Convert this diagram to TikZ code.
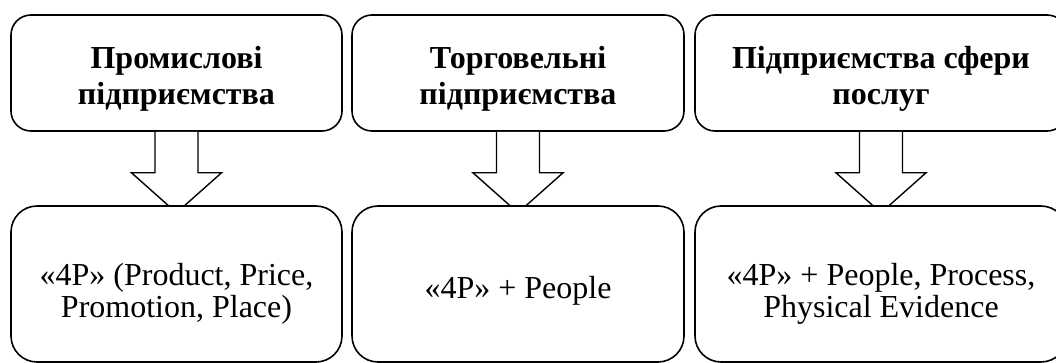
\documentclass[tikz,border=0pt]{standalone}
\usepackage{fontspec}
\setmainfont{Liberation Serif}
\usetikzlibrary{calc}
\newcommand\boxtext[2]{\raisebox{-#1}[0pt][0pt]{\begin{tabular}{@{}c@{}}#2\end{tabular}}}
\begin{document}
\begin{tikzpicture}[x=1pt,y=-1pt,
  topbox/.style={draw=black, line width=1.6pt, rounded corners=20pt, fill=white,
    minimum height=116pt, align=center, inner sep=0pt,
    font=\bfseries\fontsize{32}{36}\selectfont},
  botbox/.style={draw=black, line width=1.6pt, rounded corners=26pt, fill=white,
    minimum height=156pt, align=center, inner sep=0pt,
    font=\fontsize{32}{32}\selectfont},
  fatarrow/.style={draw=black, line width=1.4pt, fill=white, line join=miter}]
\useasboundingbox (0,0) rectangle (1056,363);
\clip (0,0) rectangle (1056,363);
% top boxes
\node[topbox, minimum width=331pt] (t1) at (176.5,73) {\boxtext{12.8pt}{Промислові\\підприємства}};
\node[topbox, minimum width=332pt] (t2) at (518,73) {\boxtext{12.8pt}{Торговельні\\підприємства}};
\node[topbox, minimum width=372pt] (t3) at (881,73) {\boxtext{12.8pt}{Підприємства сфери\\послуг}};
% arrows (drawn before the lower boxes, which hide their tips)
\foreach \n in {t1,t2,t3}{
  \draw[fatarrow] ($(\n.south)+(-21.5,0)$) -- ++(0,41) -- ++(-23.5,0)
     -- ($(\n.south)+(0,81)$) -- ($(\n.south)+(45,41)$) -- ++(-23.5,0) -- ($(\n.south)+(21.5,0)$);
}
% bottom boxes
\node[botbox, minimum width=331pt] (b1) at (176.5,284) {\boxtext{17.1pt}{«4P» (Product, Price,\\Promotion, Place)}};
\node[botbox, minimum width=332pt] (b2) at (518,284) {\boxtext{14.3pt}{«4P» + People}};
\node[botbox, minimum width=372pt] (b3) at (881,284) {\boxtext{17.1pt}{«4P» + People, Process,\\Physical Evidence}};
\end{tikzpicture}
\end{document}
